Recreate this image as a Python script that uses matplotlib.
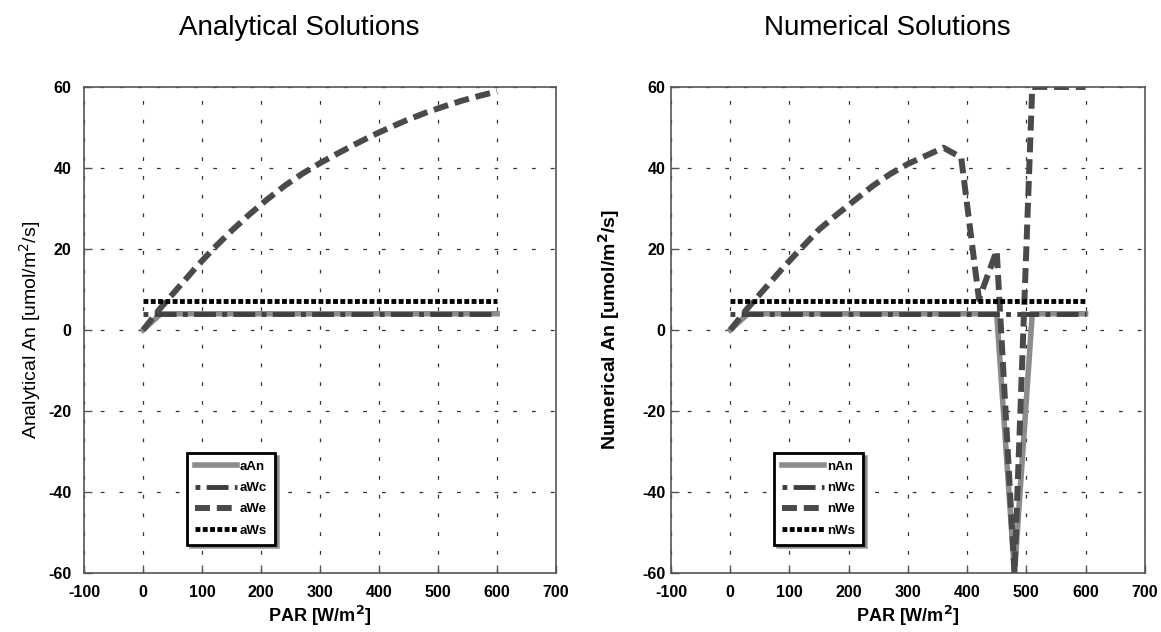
import matplotlib
matplotlib.use('Agg')
import matplotlib.pyplot as plt

plt.rcParams['font.family'] = ['Liberation Sans', 'DejaVu Sans']
plt.rcParams['axes.unicode_minus'] = False

# PAR values (W/m2)
par = [0, 30, 60, 90, 120, 150, 180, 210, 240, 270, 300,
       330, 360, 390, 420, 450, 480, 510, 540, 570, 600]

# analytical solutions
aAn = [0, 4, 4, 4, 4, 4, 4, 4, 4, 4, 4, 4, 4, 4, 4, 4, 4, 4, 4, 4, 4]
aWc = [4, 4, 4, 4, 4, 4, 4, 4, 4, 4, 4, 4, 4, 4, 4, 4, 4, 4, 4, 4, 4]
aWe = [0, 5.5, 10.5, 15.5, 20.2, 24.5, 28.5, 32.2, 35.6, 38.6, 41.2,
       43.6, 45.9, 48.1, 50.1, 52.0, 53.7, 55.2, 56.6, 57.8, 58.9]
aWs = [7.2] * 21

# numerical solutions
nAn = [0, 4, 4, 4, 4, 4, 4, 4, 4, 4, 4, 4, 4, 4, 4, 4, -60, 4, 4, 4, 4]
nWc = [4, 4, 4, 4, 4, 4, 4, 4, 4, 4, 4, 4, 4, 4, 4, 4, 4, 4, 4, 4, 4]
nWe = [0, 5.5, 10.5, 15.5, 20.2, 24.8, 28.5, 32.0, 35.5, 38.5, 41.0,
       43.0, 45.0, 42.6, 7.6, 19.6, -60, 60, 60, 60, 60]
nWs = [7.2] * 21

xticks = [-100, 0, 100, 200, 300, 400, 500, 600, 700]
yticks = [-60, -40, -20, 0, 20, 40, 60]


def draw(ax, x, an, wc, we, ws, prefix, ylabel, yweight, ypad, ylab_x):
    ax.plot(x, an, color='#8c8c8c', lw=4, solid_joinstyle='miter', label=prefix + 'An')
    ax.plot(x, wc, color='#3f3f3f', lw=3.5, linestyle=(0, (1, 1.3, 4.5, 1.3)),
            label=prefix + 'Wc')
    ax.plot(x, we, color='#4a4a4a', lw=4.3, linestyle=(0, (2.5, 1.15)),
            label=prefix + 'We')
    ax.plot(x, ws, color='black', lw=3.5, linestyle=(0, (1, 0.5)), label=prefix + 'Ws')

    ax.set_xlim(-100, 700)
    ax.set_ylim(-60, 60)
    ax.set_xticks(xticks)
    ax.set_yticks(yticks)
    ax.grid(True, axis='x', color='#333333', lw=0.9, linestyle=(0, (3, 12)))
    ax.grid(True, axis='y', color='#333333', lw=0.9, linestyle=(2, (3, 12)))
    for s in ax.spines.values():
        s.set_color('#555555')
        s.set_linewidth(1.2)
    ax.tick_params(axis='both', direction='in', length=6, width=1, color='#555555',
                   labelsize=11.5)
    ax.tick_params(axis='x', pad=9)
    ax.tick_params(axis='y', pad=ypad)
    for lab in ax.get_xticklabels() + ax.get_yticklabels():
        lab.set_fontweight('bold')

    ax.set_xlabel('PAR [W/m$^\\mathbf{2}$]', fontsize=13, fontweight='bold')
    ax.xaxis.set_label_coords(0.5, -0.063)
    ax.set_ylabel(ylabel, fontsize=14, fontweight=yweight)
    ax.yaxis.set_label_coords(ylab_x, 0.5)

    leg = ax.legend(loc='upper left', bbox_to_anchor=(0.218, 0.247),
                    prop={'weight': 'bold', 'size': 9.5}, handlelength=3.2,
                    handletextpad=0.2, labelspacing=0.68, borderpad=0.6,
                    borderaxespad=0, fancybox=False, shadow=True, framealpha=1)
    leg.get_frame().set_edgecolor('black')
    leg.get_frame().set_linewidth(2)


fig = plt.figure(figsize=(11.61, 6.32), dpi=100)
ax1 = fig.add_axes([0.0724, 0.0934, 0.4066, 0.769])
ax2 = fig.add_axes([0.578, 0.0934, 0.408, 0.769])

draw(ax1, par, aAn, aWc, aWe, aWs, 'a', 'Analytical An [umol/m$^2$/s]', 'normal', 9, -0.087)
draw(ax2, par, nAn, nWc, nWe, nWs, 'n', 'Numerical An [umol/m$^\\mathbf{2}$/s]', 'bold', 4, -0.103)

fig.text(0.258, 1 - 35 / 632, 'Analytical Solutions', fontsize=20, ha='center', va='baseline')
fig.text(0.764, 1 - 35 / 632, 'Numerical Solutions', fontsize=20, ha='center', va='baseline')

fig.savefig('out.png', dpi=100)
